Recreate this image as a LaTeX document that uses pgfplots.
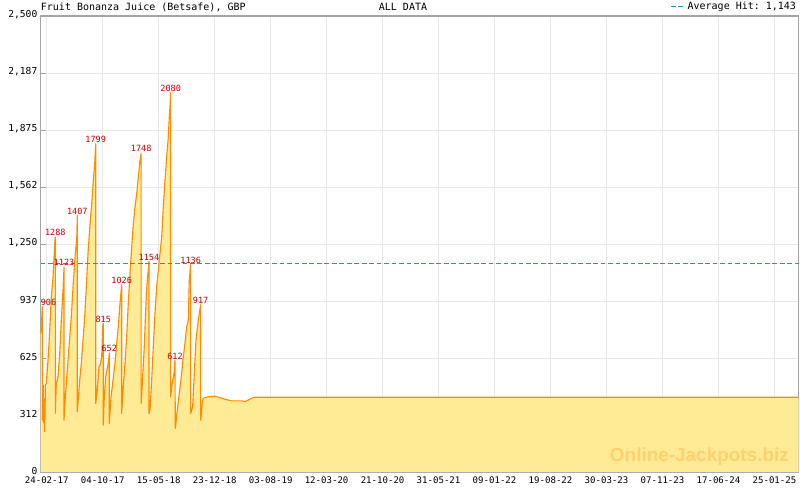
\documentclass[border=0pt]{standalone}
\usepackage{fontspec}
\setmonofont{DejaVu Sans Mono}
\setsansfont{Liberation Sans}
\usepackage{pgfplots}
\pgfplotsset{compat=1.18}
\usepackage{pgfplotstable}

\definecolor{fillyel}{RGB}{255,234,150}
\definecolor{lineorg}{RGB}{255,140,0}
\definecolor{avgblue}{RGB}{20,150,215}
\definecolor{lblred}{RGB}{204,0,0}
\definecolor{gridgray}{RGB}{232,232,232}
\definecolor{axisgray}{RGB}{165,165,165}
\definecolor{tickgray}{RGB}{160,160,180}
\definecolor{wmark}{RGB}{255,208,110}

% days since 24-02-17, jackpot value (GBP)
\pgfplotstableread{
day value
-24 760
-21 800
-18.5 880
-17.4 906
-17.4 284
-15 320
-13.5 476
-12.5 270
-11.5 300
-9.5 400
-8.5 290
-7.9 220
-6.5 330
-5.5 476
-1.6 487
5.2 612
11.9 777
18.2 959
25 1068
31.7 1252
34.1 1288
34.1 322
38.1 487
44.8 521
51.5 650
57.9 831
64.6 996
68.6 1123
68.6 284
73.7 412
81.7 558
91.2 740
97.5 850
104.3 1014
113.4 1197
118.9 1270
121.3 1407
121.3 330
130.8 503
137.2 596
143.9 722
150.6 850
157 1014
163.7 1197
170.5 1335
178.4 1471
184.7 1597
190.3 1690
194.2 1799
194.2 376
198.2 412
202.2 487
207.3 576
212.5 590
218 631
222 795
224.4 815
224.4 257
228.3 412
233.9 521
239 558
244.2 595
248.2 652
248.2 266
254.9 412
260 467
265.6 540
270.7 595
277.5 704
283.8 795
290.6 923
297.3 1026
297.3 321
303.6 467
310.4 595
317.1 740
323.4 923
330.2 1087
337 1233
343.3 1360
350 1451
356.8 1525
363.1 1615
369.8 1707
374.5 1748
374.5 376
379 487
386.9 686
392.4 886
397.6 1032
405.5 1154
405.5 320
409.5 339
416.2 503
422.6 686
429.3 868
436 1014
442.4 1105
449.1 1196
455.9 1287
462.2 1451
468.9 1597
475.7 1725
482 1834
486 1944
488.8 2000
491.5 2080
491.5 412
495.5 467
499.5 503
504.6 540
508.6 612
510 239
517.7 339
525.6 430
535.1 540
541.5 631
548.2 704
555 795
561.3 831
565.3 1050
570.8 1136
570.8 321
578.7 357
583.9 503
591.8 722
600.9 831
610.5 917
610.5 284
618.4 394
620.8 403
627.5 408
640.6 412
667.2 416
687 408
706.8 399
733.3 390
773 390
786 386
799 394
812.7 405
825.7 410
2982 410
}\jackpot

% peak labels
\pgfplotstableread{
day value label
7 906 906
34.1 1288 1288
68.6 1123 1123
121.3 1407 1407
194.2 1799 1799
224.4 815 815
248.2 652 652
297.3 1026 1026
374.5 1748 1748
405.5 1154 1154
491.5 2080 2080
508.6 612 612
570.8 1136 1136
610.5 917 917
}\peaks

% average hit line
\pgfplotstableread{
day value
-24 1143
2982 1143
}\average

\begin{document}
\begin{tikzpicture}
\useasboundingbox (0,0) rectangle (600pt,367.5pt);
\begin{axis}[
  at={(30.5pt,13.5pt)}, anchor=south west,
  scale only axis, width=568.5pt, height=342pt,
  xmin=-24, xmax=2982, ymin=0, ymax=2500,
  clip=false,
  axis line style={axisgray, line width=0.9pt},
  grid=major, major grid style={gridgray, line width=0.6pt},
  xtick={0,222,...,2886},
  xticklabels={24-02-17,04-10-17,15-05-18,23-12-18,03-08-19,12-03-20,21-10-20,31-05-21,09-01-22,19-08-22,30-03-23,07-11-23,17-06-24,25-01-25},
  minor x tick num=4,
  ytick={0,312.5,625,937.5,1250,1562.5,1875,2187.5,2500},
  yticklabels={0,312,625,937,{1,250},{1,562},{1,875},{2,187},{2,500}},
  xtick pos=bottom, ytick pos=left,
  tick align=inside,
  major tick length=4pt, minor tick length=2.5pt,
  tick style={tickgray, line width=0.6pt},
  every tick label/.append style={font=\ttfamily\fontsize{7.2}{8}\selectfont, text=black},
  xticklabel style={font=\ttfamily\fontsize{6.8}{8}\selectfont, yshift=-0.3pt},
  yticklabel style={xshift=1pt, yshift=1pt},
  legend style={at={(1,1)}, anchor=south east, draw=none, fill=none,
    font=\ttfamily\fontsize{7.5}{8}\selectfont, inner sep=0pt, outer sep=0pt, yshift=1.5pt},
  legend image code/.code={\draw[#1] (0pt,0pt) -- (10pt,0pt);},
  legend cell align=left,
]

\addplot[fill=fillyel, draw=none, forget plot] table[x=day, y=value] {\jackpot} \closedcycle;
\addplot[lineorg, line width=0.85pt, line join=round, forget plot] table[x=day, y=value] {\jackpot};

\addplot[avgblue, line width=1.1pt, dash pattern=on 3.6pt off 2pt, line cap=butt, mark=none] table[x=day, y=value] {\average};
\addlegendentry{Average Hit: 1,143}

\addplot[draw=none, forget plot, nodes near coords, point meta=explicit symbolic,
  every node near coord/.append style={anchor=south, inner sep=0.6pt, text=lblred,
    font=\ttfamily\fontsize{6.4}{7}\selectfont}]
  table[x=day, y=value, meta=label] {\peaks};

\node[anchor=base west, inner sep=0pt, font=\ttfamily\fontsize{7.5}{8}\selectfont] at (rel axis cs:0,1) [yshift=4pt] {Fruit Bonanza Juice (Betsafe), GBP};
\node[anchor=base, inner sep=0pt, font=\ttfamily\fontsize{7.5}{8}\selectfont] at (rel axis cs:0.478,1) [yshift=4pt] {ALL DATA};
\node[font=\sffamily\bfseries\fontsize{14.2}{16}\selectfont, text=wmark] at (rel axis cs:0.869,0.033) {Online-Jackpots.biz};
\end{axis}
\end{tikzpicture}
\end{document}
